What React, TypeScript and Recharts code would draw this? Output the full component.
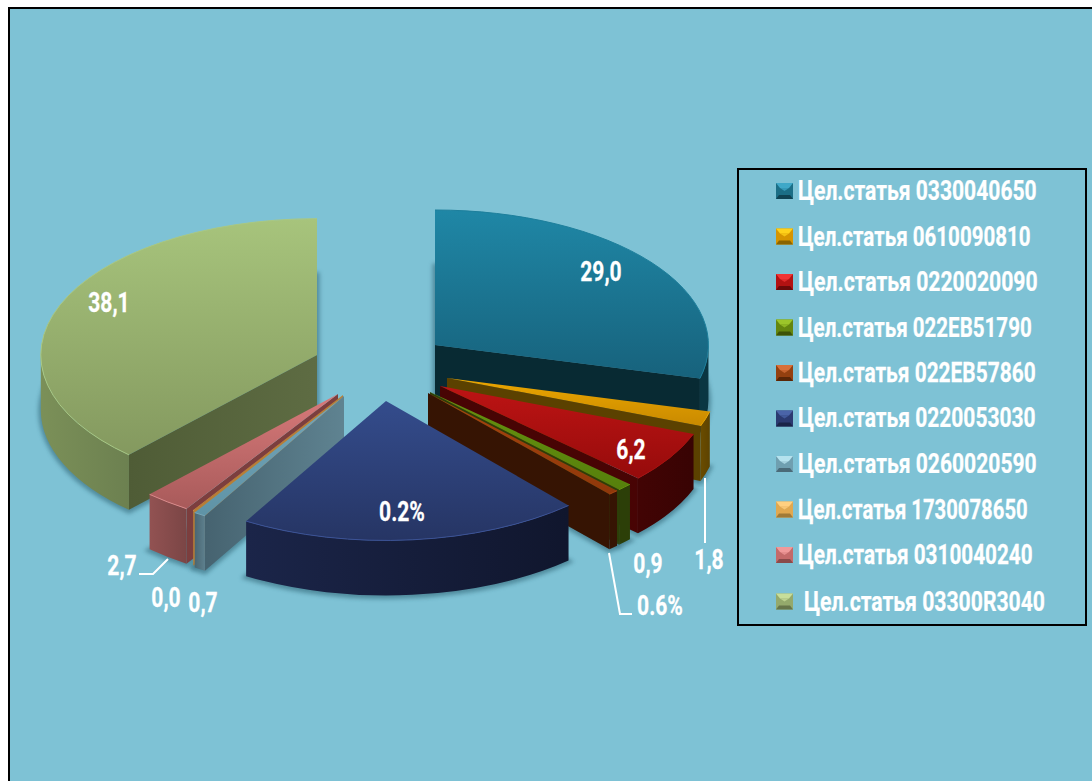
import { Legend, Pie, PieChart } from 'recharts';

const categories = [
  'Цел.статья 0330040650',
  'Цел.статья 0610090810',
  'Цел.статья 0220020090',
  'Цел.статья 022EB51790',
  'Цел.статья 022EB57860',
  'Цел.статья 0220053030',
  'Цел.статья 0260020590',
  'Цел.статья 1730078650',
  'Цел.статья 0310040240',
  'Цел.статья 03300R3040',
];
const values = [29.0, 1.8, 6.2, 0.9, 0.6, 20.0, 0.7, 0.05, 2.7, 38.1];
const valueLabels = ['29,0', '1,8', '6,2', '0,9', '0.6%', '0.2%', '0,7', '0,0', '2,7', '38,1'];
// drawn width of each legend text, the font has no matching digit widths
const legendWidths = [239, 233, 240, 233, 237, 238, 239, 230, 235, 240];

const data = categories.map((name, i) => ({ name, value: values[i] }));

// [top light, top dark, flat wall left, curved wall left, curved wall right, rim, flat wall right]
const palette = [
  ['#1f87a6', '#17627c', '#082a33', '#0a3642', '#0a3642', '#1d7f9c', '#082a33'],
  ['#eba600', '#c98a00', '#5b4100', '#6a4c00', '#5c4200', '#eba600', '#5b4100'],
  ['#bd1414', '#960b0b', '#480404', '#420404', '#380303', '#a81010', '#480404'],
  ['#66920f', '#56800c', '#2c3f08', '#2c3f08', '#2c3f08', '#66920f', '#2c3f08'],
  ['#a8440f', '#8f380a', '#361403', '#361403', '#361403', '#a8440f', '#361403'],
  ['#344c8c', '#263564', '#171f40', '#1b2549', '#10162d', '#3c5296', '#171f40'],
  ['#74a6ba', '#5f93a6', '#466370', '#4a6672', '#5f8290', '#74a6ba', '#5f8391'],
  ['#e0a050', '#d09040', '#b87f35', '#b87f35', '#b87f35', '#e0a050', '#b87f35'],
  ['#d87a7a', '#a85a5a', '#7c3e3e', '#925252', '#7a4545', '#dc8888', '#7c3e3e'],
  ['#a7c47c', '#84995f', '#4f5c36', '#7b9058', '#6c8050', '#a9c884', '#5e6c43'],
];
const legendColors = [
  ['#3fa8c8', '#1b6e86', '#0f4353'],
  ['#ffd21a', '#d69500', '#8a6400'],
  ['#f03434', '#b31212', '#6c0a0a'],
  ['#9cc52a', '#64860f', '#3d5208'],
  ['#d8703a', '#94400f', '#5a2606'],
  ['#4a64a8', '#2b3a70', '#1a2448'],
  ['#b5e2ee', '#6f9fb0', '#4a6a78'],
  ['#ffd080', '#e0a850', '#a07a38'],
  ['#f09a9a', '#c46a6a', '#8a4a4a'],
  ['#c8de9a', '#94a96c', '#66754a'],
];

// painter's order, back to front
const drawOrder = [9, 8, 7, 6, 0, 1, 2, 3, 4, 5];

const CX = 377;
const CY = 364;
const RADIUS = 274;
const SQUASH = 0.4927;
const DEPTH = 55;
// exploded apex of each slice, relative to the pie centre
const explode = [
  [50, -27], [62, 6], [55, 14], [45, 20], [43, 21],
  [1, 29], [-41, 24], [-42, 23], [-47, 22], [-68, -17],
];
// perspective: front slices are a bit bigger [x scale, y scale]
const stretch = [
  [0.998, 1], [0.99, 1], [0.99, 1], [1, 1], [1, 1],
  [1.006, 1.033], [1, 1.03], [1, 1.02], [1.01, 1.015], [1.008, 1.01],
];
// label anchors relative to the pie centre
const labelAt = [
  [216, -100], [324, 188], [246, 78], [263, 192], [275, 234],
  [17, 140], [-182, 231], [-219, 226], [-263, 194], [-276, -69],
];
const leaders = {
  1: [[320, 106], [320, 171]],
  4: [[224, 181], [235, 242], [247, 242]],
  8: [[-217, 187], [-232, 202], [-246, 202]],
};

const FONT = 'Roboto, sans-serif';
const TEXT_SIZE = 27;
const TEXT_SQUEEZE = 0.78;
const LEGEND_NATURAL_WIDTH = 306;

function Slice3D(props: any, own: number) {
  const idx = categories.indexOf(props.name ?? props.payload?.name);
  if (idx !== own) return <g />;
  const [topA, topB, wall, curveL, curveR, rim, wallR] = palette[idx];
  const rx = props.outerRadius * stretch[idx][0];
  const ry = props.outerRadius * SQUASH * stretch[idx][1];
  const ax = props.cx + explode[idx][0];
  const ay = props.cy + explode[idx][1];
  const a0 = 90 - props.startAngle;
  const a1 = 90 - props.endAngle;
  const pt = (t: number, dy = 0) => {
    const r = (t * Math.PI) / 180;
    return [ax + rx * Math.sin(r), ay - ry * Math.cos(r) + dy];
  };
  const arc = (from: number, to: number, dy = 0) => {
    const [x, y] = pt(to, dy);
    const large = Math.abs(to - from) > 180 ? 1 : 0;
    const sweep = to > from ? 1 : 0;
    return `A${rx} ${ry} 0 ${large} ${sweep} ${x} ${y}`;
  };
  const wedge = (dy: number) => {
    const s = pt(a0, dy);
    return `M${ax} ${ay + dy}L${s[0]} ${s[1]}${arc(a0, a1, dy)}Z`;
  };
  const flat = (t: number) => {
    const p = pt(t);
    return `M${ax} ${ay}L${p[0]} ${p[1]}L${p[0]} ${p[1] + DEPTH}L${ax} ${ay + DEPTH}Z`;
  };
  const vis0 = Math.max(a0, 90);
  const vis1 = Math.min(a1, 270);
  const hasCurve = vis1 > vis0;
  const s0 = pt(vis0);
  const s1 = pt(vis1);
  const rs = pt(a0);
  const curveLeft = Math.min(s0[0], s1[0]);
  const curveRight = Math.max(s0[0], s1[0]);
  const sin0 = Math.sin((a0 * Math.PI) / 180);
  const sin1 = Math.sin((a1 * Math.PI) / 180);
  return (
    <g>
      <defs>
        <linearGradient id={`top-${idx}`} x1="0" y1="0" x2="0" y2="1">
          <stop offset="0" stopColor={topA} />
          <stop offset="1" stopColor={topB} />
        </linearGradient>
        <linearGradient id={`curve-${idx}`} gradientUnits="userSpaceOnUse" x1={curveLeft} y1="0" x2={curveRight + 1} y2="0">
          <stop offset="0" stopColor={curveL} />
          <stop offset="1" stopColor={curveR} />
        </linearGradient>
        <linearGradient id={`flat-${idx}`} x1="0" y1="0" x2="1" y2="0">
          <stop offset="0" stopColor={wall} />
          <stop offset="1" stopColor={wallR} />
        </linearGradient>
        <filter id={`soft-${idx}`} x="-10%" y="-10%" width="120%" height="120%">
          <feGaussianBlur stdDeviation="2" />
        </filter>
      </defs>
      <path d={wedge(DEPTH + 1)} fill="#2c5f70" stroke="#2c5f70" strokeWidth={5} opacity={0.55} filter={`url(#soft-${idx})`} />
      {sin0 < 0 && <path d={flat(a0)} fill={`url(#flat-${idx})`} />}
      {sin1 > 0 && <path d={flat(a1)} fill={`url(#flat-${idx})`} />}
      {hasCurve && (
        <path
          d={`M${s0[0]} ${s0[1]}${arc(vis0, vis1)}L${s1[0]} ${s1[1] + DEPTH}${arc(vis1, vis0, DEPTH)}Z`}
          fill={`url(#curve-${idx})`}
        />
      )}
      <path d={wedge(0)} fill={`url(#top-${idx})`} />
      <path d={`M${rs[0]} ${rs[1]}${arc(a0, a1)}`} fill="none" stroke={rim} strokeWidth={1} />
    </g>
  );
}

const textStyle = {
  dominantBaseline: 'central',
  fill: '#fff',
  stroke: '#fff',
  strokeWidth: 0.25,
  fontFamily: FONT,
  fontWeight: 700,
  fontSize: TEXT_SIZE,
};

function valueLabel(props: any) {
  const idx = props.index;
  const line = (leaders as any)[idx];
  return (
    <g key={`lab-${idx}`}>
      {line && (
        <polyline
          points={line.map((p: number[]) => `${props.cx + p[0]},${props.cy + p[1]}`).join(' ')}
          fill="none"
          stroke="#fff"
          strokeWidth={2}
        />
      )}
      <text
        {...textStyle}
        textAnchor="middle"
        transform={`translate(${props.cx + labelAt[idx][0]} ${props.cy + labelAt[idx][1]}) scale(${TEXT_SQUEEZE} 1)`}
      >
        {valueLabels[idx]}
      </text>
    </g>
  );
}

function LegendBox({ payload }: any) {
  const rows = (payload ?? []).filter((p: any) => p.type !== 'none');
  return (
    <svg width={350} height={458} style={{ display: 'block' }}>
      <rect x={1} y={1} width={348} height={456} fill="none" stroke="#000" strokeWidth={2} />
      {rows.map((row: any, i: number) => {
        const y = 23 + i * 45.5;
        const [l, m, d] = legendColors[i];
        return (
          <g key={row.value} transform={`translate(39 ${y - 8 + (i === 9 ? 1 : 0)})`}>
            <rect width={17} height={16} fill={m} />
            <polygon points="0,0 17,0 13,5 4,5" fill={l} />
            <polygon points="4,5 13,5 8.5,8" fill={l} opacity={0.75} />
            <polygon points="0,16 17,16 14,12 3,12" fill={d} />
            <text
              {...textStyle}
              transform={`translate(${i === 9 ? 28 : 22} 8) scale(${legendWidths[i] / LEGEND_NATURAL_WIDTH} 1)`}
            >
              {row.value}
            </text>
          </g>
        );
      })}
    </svg>
  );
}

export default function App() {
  return (
    <div
      style={{
        position: 'fixed',
        left: 8,
        top: 7,
        width: 1084,
        height: 774,
        boxSizing: 'border-box',
        background: '#7ec2d5',
        borderTop: '2px solid #000',
        borderLeft: '2px solid #000',
      }}
    >
      <div style={{ position: 'absolute', left: -2, top: -1 }}>
        <PieChart width={1084} height={773} margin={{ top: 0, right: 0, bottom: 0, left: 0 }}>
          {drawOrder.map((own, n) => (
            <Pie
              key={own}
              data={data}
              dataKey="value"
              nameKey="name"
              cx={CX}
              cy={CY}
              outerRadius={RADIUS}
              startAngle={90}
              endAngle={-270}
              stroke="none"
              isAnimationActive={false}
              legendType={n === 0 ? 'square' : 'none'}
              labelLine={false}
              label={n === drawOrder.length - 1 ? valueLabel : false}
              shape={(p: any) => Slice3D(p, own)}
            />
          ))}
          <Legend
            content={<LegendBox />}
            itemSorter={null}
            wrapperStyle={{ position: 'absolute', left: 729, top: 160, width: 350, height: 458 }}
          />
        </PieChart>
      </div>
    </div>
  );
}
